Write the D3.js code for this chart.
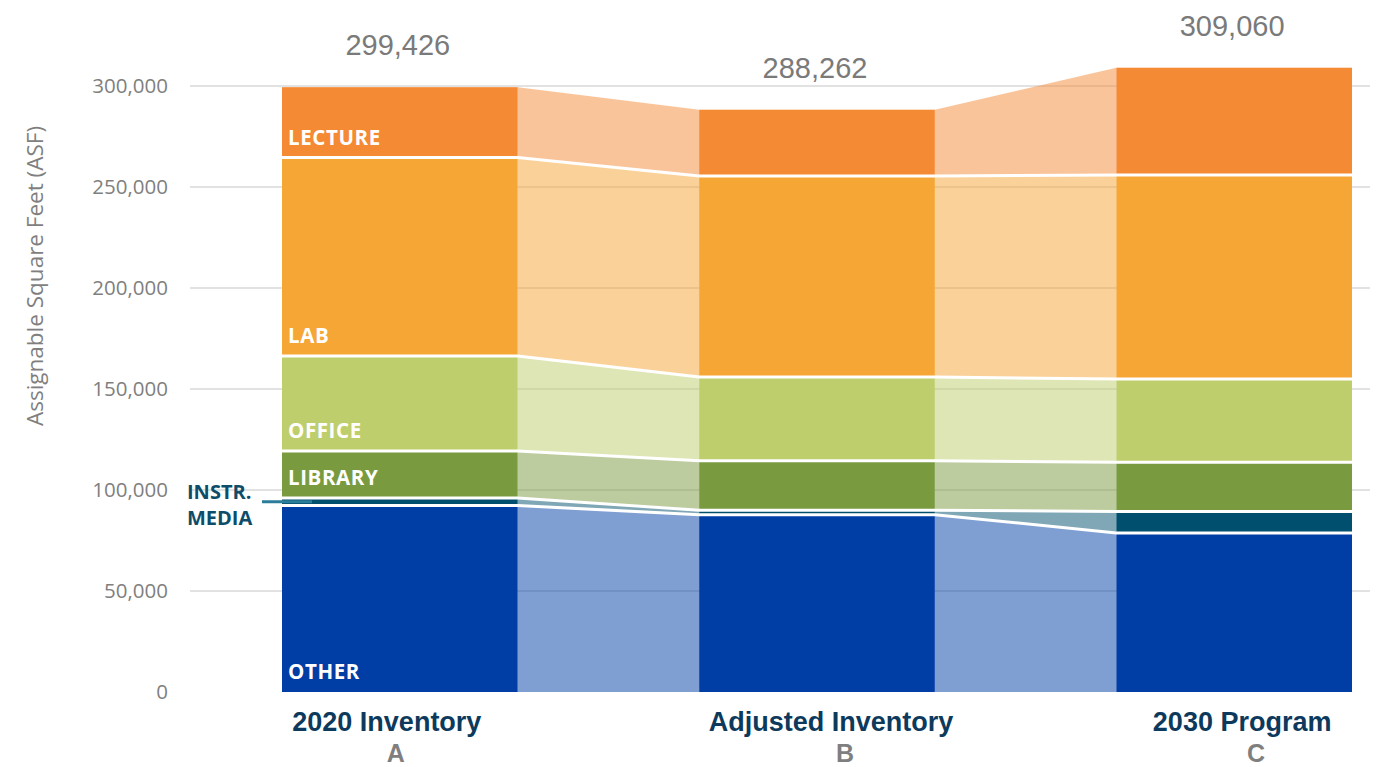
<!DOCTYPE html>
<html>
<head>
<meta charset="utf-8">
<script src="https://cdn.jsdelivr.net/npm/d3@7"></script>
<style>
  html, body { margin: 0; padding: 0; background: #fff; }
  svg { display: block; }
</style>
</head>
<body>
<svg id="chart" width="1381" height="767"></svg>
<script>
// Scenarios along the x axis
const scenarios = ["2020 Inventory", "Adjusted Inventory", "2030 Program"];
const scenarioLetters = ["A", "B", "C"];

// Space types, stacked bottom to top
const spaceTypes = ["OTHER", "INSTR. MEDIA", "LIBRARY", "OFFICE", "LAB", "LECTURE"];

// Assignable square feet per space type, one value per scenario
const otherASF   = [92300, 87800, 78700];
const instrASF   = [3700, 2200, 10600];
const libraryASF = [23300, 24500, 24400];
const officeASF  = [47000, 41400, 41300];
const labASF     = [98300, 99500, 101000];
const lectureASF = [34826, 32862, 53060];

// Y axis ticks
const yTicks = [0, 50000, 100000, 150000, 200000, 250000, 300000];

const colors = {
  "OTHER": "#003DA5",
  "INSTR. MEDIA": "#004F6E",
  "LIBRARY": "#7A9A40",
  "OFFICE": "#BFCE6C",
  "LAB": "#F6A634",
  "LECTURE": "#F58A35"
};

const series = [otherASF, instrASF, libraryASF, officeASF, labASF, lectureASF];
const rows = scenarios.map((s, i) => {
  const r = { scenario: s };
  spaceTypes.forEach((t, k) => { r[t] = series[k][i]; });
  return r;
});

const stacked = d3.stack().keys(spaceTypes)(rows);
const totals = rows.map(r => d3.sum(spaceTypes, t => r[t]));

const svg = d3.select("#chart");

const x = d3.scaleBand().domain(scenarios).range([282, 1352]).paddingInner(0.435).paddingOuter(0);
const y = d3.scaleLinear().domain([0, 300000]).range([692, 86]);
const bw = x.bandwidth();

// Gridlines
svg.append("g")
  .selectAll("line")
  .data(yTicks.filter(d => d > 0))
  .join("line")
  .attr("x1", 190).attr("x2", 1370)
  .attr("y1", d => y(d)).attr("y2", d => y(d))
  .attr("stroke", "#d9d9d9").attr("stroke-width", 1.5);

// Y axis tick labels
const yAxis = d3.axisLeft(y).tickValues(yTicks).tickFormat(d3.format(",")).tickSize(0).tickPadding(0);
const yg = svg.append("g").attr("transform", "translate(168,0)").call(yAxis);
yg.select(".domain").remove();
yg.selectAll("text")
  .attr("fill", "#7f7f7f")
  .style("font-family", "'Open Sans', 'Noto Sans', sans-serif")
  .style("font-size", "20.5px");

// Y axis title
svg.append("text")
  .attr("transform", "translate(43,276) rotate(-90)")
  .attr("text-anchor", "middle")
  .attr("fill", "#7f7f7f")
  .style("font-family", "'Open Sans', 'Noto Sans', sans-serif")
  .style("font-size", "22.5px")
  .text("Assignable Square Feet (ASF)");

// Connecting bands between neighbouring bars
const area = d3.area().x(d => d.x).y0(d => y(d.y0)).y1(d => y(d.y1));
const bandsG = svg.append("g");
stacked.forEach(layer => {
  for (let i = 0; i < scenarios.length - 1; i++) {
    const a = layer[i], b = layer[i + 1];
    const pts = [
      { x: x(scenarios[i]) + bw, y0: a[0], y1: a[1] },
      { x: x(scenarios[i + 1]), y0: b[0], y1: b[1] }
    ];
    bandsG.append("path")
      .attr("d", area(pts))
      .attr("fill", colors[layer.key])
      .attr("fill-opacity", 0.5);
  }
});

// Stacked bars
const barsG = svg.append("g");
stacked.forEach(layer => {
  barsG.selectAll(null)
    .data(layer)
    .join("rect")
    .attr("x", d => x(d.data.scenario))
    .attr("width", bw)
    .attr("y", d => y(d[1]))
    .attr("height", d => y(d[0]) - y(d[1]))
    .attr("fill", colors[layer.key]);
});

// White separators along each stack boundary
const line = d3.line().x(d => d[0]).y(d => y(d[1]));
stacked.slice(0, -1).forEach(layer => {
  const pts = [];
  layer.forEach(d => {
    const x0 = x(d.data.scenario);
    pts.push([x0, d[1]], [x0 + bw, d[1]]);
  });
  svg.append("path")
    .attr("d", line(pts))
    .attr("fill", "none")
    .attr("stroke", "#fff")
    .attr("stroke-width", 3);
});

// Space type labels inside the first bar
const labelFont = "'Open Sans', 'Noto Sans', sans-serif";
const firstX = x(scenarios[0]);
stacked.forEach(layer => {
  if (layer.key === "INSTR. MEDIA") return;
  const d = layer[0];
  svg.append("text")
    .attr("x", firstX + 6)
    .attr("y", y(d[0]) - 20)
    .attr("dy", "0.35em")
    .attr("fill", "#fff")
    .style("font-family", labelFont)
    .style("font-weight", "700")
    .style("font-size", "20.5px")
    .style("letter-spacing", "0.6px")
    .text(layer.key);
});

// Instructional media callout to the left of the first bar
const instr = stacked[1][0];
const instrMid = y((instr[0] + instr[1]) / 2);
svg.append("line")
  .attr("x1", 262).attr("x2", firstX + 30)
  .attr("y1", instrMid).attr("y2", instrMid)
  .attr("stroke", "#2b7d99").attr("stroke-width", 3);
const instrLines = ["INSTR.", "MEDIA"];
svg.append("g")
  .selectAll("text")
  .data(instrLines)
  .join("text")
  .attr("x", 187)
  .attr("y", (d, i) => 499 + i * 26)
  .attr("fill", "#0e4d6a")
  .style("font-family", labelFont)
  .style("font-weight", "700")
  .style("font-size", "20px")
  .text(d => d);

// Totals above each bar
svg.append("g")
  .selectAll("text")
  .data(scenarios)
  .join("text")
  .attr("x", d => x(d) + bw / 2 - 2)
  .attr("y", (d, i) => y(totals[i]) - 32)
  .attr("text-anchor", "middle")
  .attr("fill", "#7a7a7a")
  .style("font-family", "'Liberation Sans', Arial, sans-serif")
  .style("font-size", "29px")
  .text((d, i) => d3.format(",")(totals[i]));

// Scenario names and letters under the bars
const nameOffsets = [-13, 14, 8];
const letterOffsets = [-4, 28, 22];
svg.append("g")
  .selectAll("text")
  .data(scenarios)
  .join("text")
  .attr("x", (d, i) => x(d) + bw / 2 + nameOffsets[i])
  .attr("y", 731)
  .attr("text-anchor", "middle")
  .attr("fill", "#0d3a5c")
  .style("font-family", "'Liberation Sans', Arial, sans-serif")
  .style("font-weight", "700")
  .style("font-size", "27px")
  .text(d => d);

svg.append("g")
  .selectAll("text")
  .data(scenarios)
  .join("text")
  .attr("x", (d, i) => x(d) + bw / 2 + letterOffsets[i])
  .attr("y", 762)
  .attr("text-anchor", "middle")
  .attr("fill", "#7f7f7f")
  .style("font-family", "'Liberation Sans', Arial, sans-serif")
  .style("font-weight", "700")
  .style("font-size", "25px")
  .text((d, i) => scenarioLetters[i]);
</script>
</body>
</html>
